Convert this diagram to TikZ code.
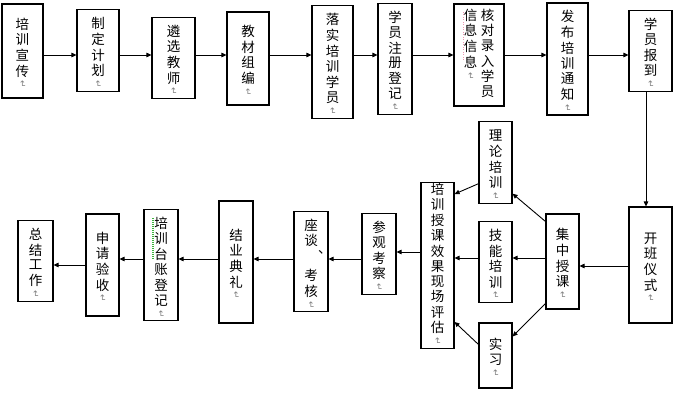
\documentclass[tikz,border=0pt]{standalone}
\usepackage{fontspec}
\usepackage{graphicx}
\setmainfont{Liberation Sans}
\newfontfamily\cjk{Noto Sans CJK SC}
\newfontfamily\dejavu{DejaVu Sans}
\usetikzlibrary{arrows.meta, positioning}
\definecolor{markgray}{RGB}{128,128,128}
\definecolor{spellgreen}{RGB}{60,180,60}
\definecolor{spellpink}{RGB}{235,150,175}
% paragraph mark and vertical text columns
\newcommand\pmark{{\color{markgray}\dejavu\fontsize{9}{9}\selectfont\rotatebox[origin=c]{-90}{↵}}}
\newcommand\vcol[2][19pt]{\begin{tabular}[t]{@{}c@{}}\rule{0pt}{#1}#2\\[-3pt]\pmark\end{tabular}}
\newcommand\vplain[1]{\begin{tabular}[t]{@{}c@{}}#1\end{tabular}}
\tikzset{
  stepbox/.style={rectangle, draw=black, line width=1.1pt, inner sep=0pt,
    font={\cjk\fontsize{13.5}{14.3}\selectfont}},
  arrow/.style={-{Triangle[length=5pt,width=4.5pt]}, line width=0.9pt, color=black}
}

\begin{document}
\begin{tikzpicture}[x=1pt, y=-1pt]
  \useasboundingbox (0,0) rectangle (673,406);
  % TOP ROW: preparation
  \node[stepbox, minimum width=41pt, minimum height=94pt] (xc) at (22.5,51) {\vcol{培\\训\\宣\\传}};
  \node[stepbox, minimum width=42pt, minimum height=65pt] (jh) at (98,50.5) {\vcol{制\\定\\计\\划}};
  \node[stepbox, minimum width=43pt, minimum height=80pt] (lx) at (173.5,58) {\vcol{遴\\选\\教\\师}};
  \node[stepbox, minimum width=42pt, minimum height=93pt] (jc) at (248,58.5) {\vcol{教\\材\\组\\编}};
  \node[stepbox, minimum width=41pt, minimum height=100pt] (ls) at (332.5,62) {\vcol{落\\实\\培\\训\\学\\员}};
  \node[stepbox, minimum width=34pt, minimum height=94pt] (zc) at (395,59) {\vcol{学\\员\\注\\册\\登\\记}};
  \node[stepbox, minimum width=50pt, minimum height=102pt] (hd) at (479,55) {\vcol[0pt]{信\\息\\信\\息}\hspace{3.5pt}\vplain{核\\对\\录\\入\\学\\员}\hspace{9pt}};
  \node[stepbox, minimum width=41pt, minimum height=94pt] (fb) at (567.5,59) {\vcol{发\\布\\培\\训\\通\\知}};
  \node[stepbox, minimum width=43pt, minimum height=66pt] (bd) at (650.5,51) {\vcol{学\\员\\报\\到}};

  % RIGHT SIDE: teaching
  \node[stepbox, minimum width=43pt, minimum height=116pt] (kb) at (650.5,265) {\vcol{开\\班\\仪\\式}};
  \node[stepbox, minimum width=33pt, minimum height=95pt] (jz) at (562.5,261.5) {\vcol{集\\中\\授\\课}};
  \node[stepbox, minimum width=33pt, minimum height=71pt] (ll) at (495.5,162.5) {\vcol{理\\论\\培\\训}};
  \node[stepbox, minimum width=33pt, minimum height=80pt] (jn) at (495.5,262) {\vcol{技\\能\\培\\训}};
  \node[stepbox, minimum width=33pt, minimum height=65pt] (sx) at (495.5,355.5) {\vcol{实\\习}};
  \node[stepbox, minimum width=33pt, minimum height=159pt] (pg) at (437.5,265.5) {\vcol[12pt]{培\\训\\授\\课\\效\\果\\现\\场\\评\\估}};

  % BOTTOM ROW: closing
  \node[stepbox, minimum width=34pt, minimum height=66pt] (cg) at (379,254) {\vcol{参\\观\\考\\察}};
  \node[stepbox, minimum width=34pt, minimum height=95pt] (zt) at (311,261.5) {\vcol{座\\谈\\\makebox[0pt][l]{\hspace{7pt}\raisebox{12pt}{、}}\\考\\核}};
  \node[stepbox, minimum width=34pt, minimum height=122pt] (jy) at (236,262) {\vcol{结\\业\\典\\礼}};
  \node[stepbox, minimum width=34pt, minimum height=102pt] (tz) at (161,265) {\vcol{培\\训\\台\\账\\登\\记}};
  \node[stepbox, minimum width=33pt, minimum height=102pt] (sq) at (102.5,265) {\vcol{申\\请\\验\\收}};
  \node[stepbox, minimum width=35pt, minimum height=80pt] (zj) at (35.5,261) {\vcol{总\\结\\工\\作}};

  % spell-check marks
  \draw[spellgreen, dash pattern=on 1pt off 1pt, line width=1.2pt] (153,218) -- (153,260);
  \draw[spellpink, dash pattern=on 1pt off 1.5pt, line width=0.8pt] (463,12) -- (463,62);

  % Arrows along the top row
  \coordinate (rowA) at (0,55);
  \draw[arrow] (xc.east |- rowA) -- (jh.west |- rowA);
  \draw[arrow] (jh.east |- rowA) -- (lx.west |- rowA);
  \draw[arrow] (lx.east |- rowA) -- (jc.west |- rowA);
  \draw[arrow] (jc.east |- rowA) -- (ls.west |- rowA);
  \draw[arrow] (ls.east |- rowA) -- (zc.west |- rowA);
  \draw[arrow] (zc.east |- rowA) -- (hd.west |- rowA);
  \draw[arrow] (hd.east |- rowA) -- (fb.west |- rowA);
  \draw[arrow] (fb.east |- rowA) -- (bd.west |- rowA);
  \draw[arrow] ([xshift=-4.5pt]bd.south) -- ([xshift=-4.5pt]kb.north);

  % Arrows through the teaching part
  \coordinate (rowB) at (0,266);
  \coordinate (rowC) at (0,258);
  \draw[arrow] (kb.west |- rowB) -- (jz.east |- rowB);
  \draw[arrow] (jz.west |- rowC) -- (jn.east |- rowC);
  \draw[arrow] (jn.west |- rowC) -- (pg.east |- rowC);
  \draw[arrow] ([yshift=-8pt]jz.north west) -- ([yshift=10pt]ll.south east);
  \draw[arrow] ([yshift=6pt]jz.south west) -- ([yshift=-14pt]sx.north east);
  \draw[arrow] ([yshift=20pt]ll.south west) -- ([yshift=-12pt]pg.north east);
  \draw[arrow] ([yshift=-22pt]sx.north west) -- ([yshift=27pt]pg.south east);

  % Arrows along the bottom row
  \coordinate (rowD) at (0,252);
  \coordinate (rowE) at (0,259);
  \coordinate (rowF) at (0,265);
  \draw[arrow] (pg.west |- rowD) -- (cg.east |- rowD);
  \draw[arrow] (cg.west |- rowE) -- (zt.east |- rowE);
  \draw[arrow] (zt.west |- rowE) -- (jy.east |- rowE);
  \draw[arrow] (jy.west |- rowE) -- (tz.east |- rowE);
  \draw[arrow] (tz.west |- rowE) -- (sq.east |- rowE);
  \draw[arrow] (sq.west |- rowF) -- (zj.east |- rowF);
\end{tikzpicture}
\end{document}
